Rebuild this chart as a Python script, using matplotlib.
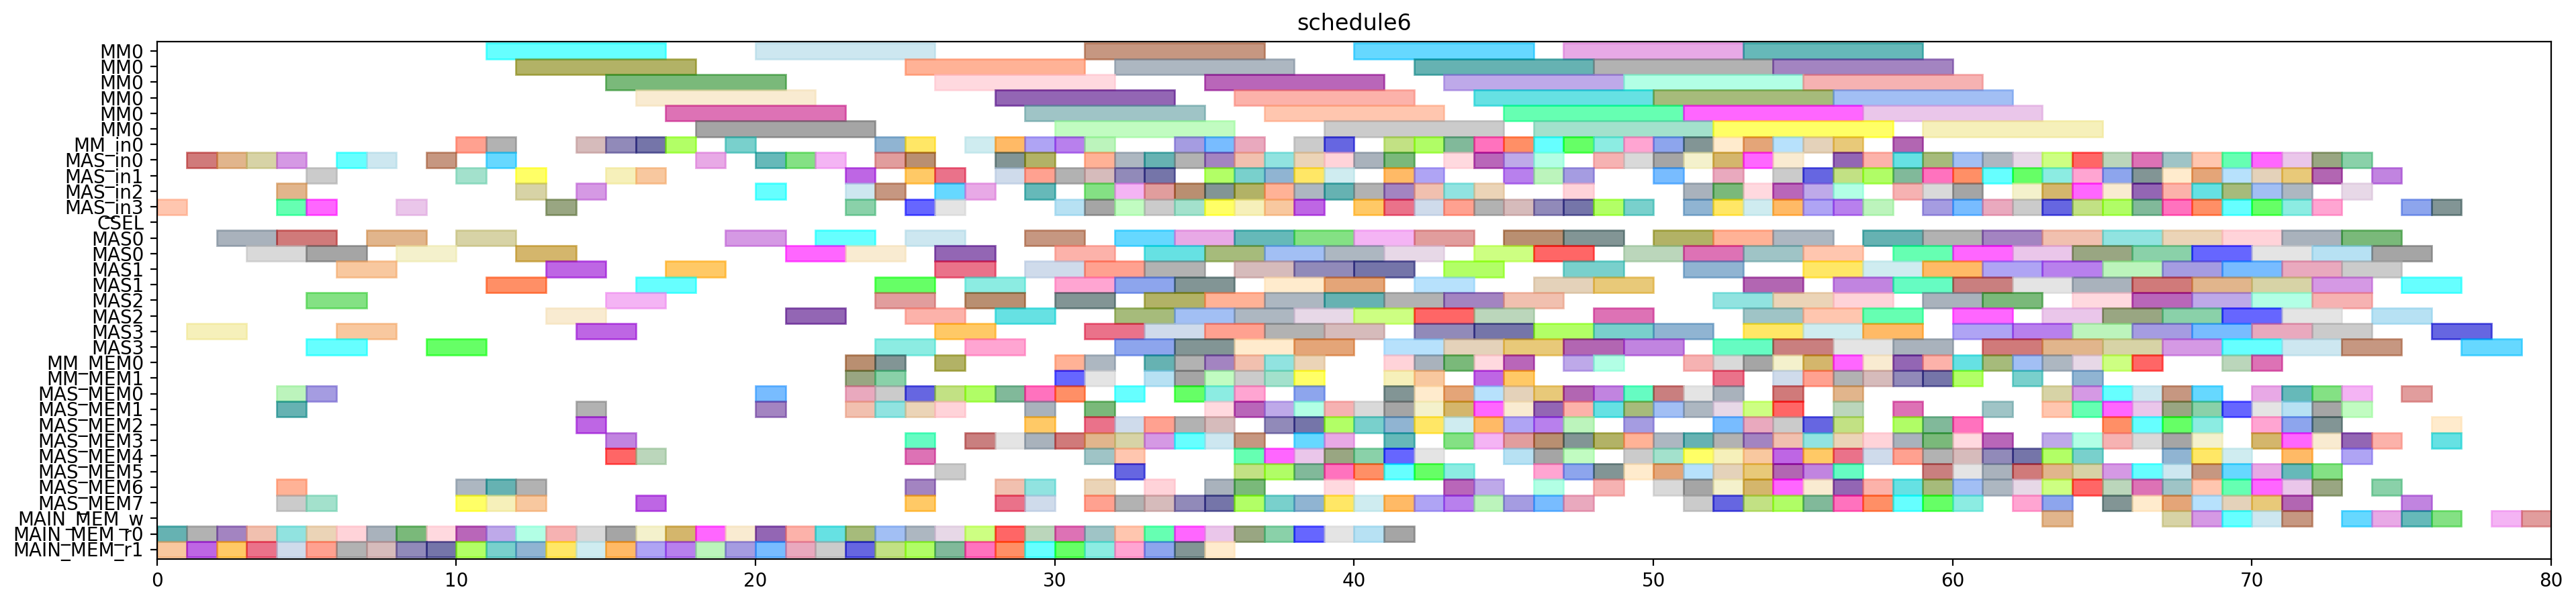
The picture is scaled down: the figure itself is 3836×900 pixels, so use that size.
import matplotlib
matplotlib.use('Agg')
import matplotlib.pyplot as plt
import matplotlib.colors as mcolors

title = 'schedule6'

row_labels = ['MM0', 'MM0', 'MM0', 'MM0', 'MM0', 'MM0', 'MM_in0',
              'MAS_in0', 'MAS_in1', 'MAS_in2', 'MAS_in3', 'CSEL',
              'MAS0', 'MAS0', 'MAS1', 'MAS1', 'MAS2', 'MAS2', 'MAS3', 'MAS3',
              'MM_MEM0', 'MM_MEM1',
              'MAS_MEM0', 'MAS_MEM1', 'MAS_MEM2', 'MAS_MEM3',
              'MAS_MEM4', 'MAS_MEM5', 'MAS_MEM6', 'MAS_MEM7',
              'MAIN_MEM_w', 'MAIN_MEM_r0', 'MAIN_MEM_r1']

# duration of one task on each row
row_durations = [6, 6, 6, 6, 6, 6, 1,
                 1, 1, 1, 1, 1,
                 2, 2, 2, 2, 2, 2, 2, 2,
                 1, 1,
                 1, 1, 1, 1, 1, 1, 1, 1,
                 1, 1, 1]

# start times of the tasks, one list per row
mm0_a = [11, 20, 31, 40, 47, 53]
mm0_b = [12, 25, 32, 42, 48, 54]
mm0_c = [15, 26, 35, 43, 49, 55]
mm0_d = [16, 28, 36, 44, 50, 56]
mm0_e = [17, 29, 37, 45, 51, 57]
mm0_f = [18, 30, 39, 46, 52, 59]
mm_in0 = [10, 11, 14, 15, 16, 17, 19, 24, 25, 27, 28, 29, 30, 31, 34, 35, 36, 38,
          39, 41, 42, 43, 44, 45, 46, 47, 48, 49, 50, 51, 52, 53, 54, 55, 56, 58]
mas_in0 = [1, 2, 3, 4, 6, 7, 9, 11, 18, 20, 21, 22, 24, 25, 28, 29, 31, 32, 33, 34,
           35, 36, 37, 38, 39, 40, 41, 43, 44, 45, 46, 48, 49, 50, 51, 52, 53, 54,
           56, 57, 58, 59, 60, 61, 62, 63, 64, 65, 66, 67, 68, 69, 70, 71, 72, 73]
mas_in1 = [5, 10, 12, 15, 16, 23, 25, 26, 28, 29, 30, 31, 32, 33, 35, 36, 37, 38,
           39, 41, 42, 45, 46, 47, 50, 52, 54, 55, 56, 57, 58, 59, 60, 61, 62, 63,
           64, 65, 66, 67, 68, 69, 70, 71, 72, 74]
mas_in2 = [4, 12, 14, 20, 23, 24, 26, 27, 29, 31, 32, 33, 34, 35, 36, 37, 38, 39,
           40, 41, 42, 43, 44, 47, 51, 52, 53, 54, 55, 56, 58, 59, 60, 62, 63, 64,
           65, 66, 67, 68, 69, 70, 71, 73]
mas_in3 = [0, 4, 5, 8, 13, 23, 25, 26, 30, 31, 32, 33, 34, 35, 36, 37, 38, 40, 41,
           42, 43, 44, 45, 46, 47, 48, 49, 51, 52, 53, 54, 55, 56, 57, 59, 60, 61,
           62, 63, 64, 65, 66, 67, 68, 69, 70, 71, 72, 75, 76]
csel = []
mas0_a = [2, 4, 7, 10, 19, 22, 25, 29, 32, 34, 36, 38, 40, 42, 45, 47, 50, 52, 54,
          57, 59, 61, 63, 65, 67, 69, 71, 73]
mas0_b = [3, 5, 8, 12, 21, 23, 26, 30, 33, 35, 37, 39, 41, 44, 46, 49, 51, 53, 55,
          58, 60, 62, 64, 66, 68, 70, 72, 74]
mas1_a = [6, 13, 17, 26, 29, 31, 33, 36, 38, 40, 43, 47, 51, 55, 57, 59, 61, 63,
          65, 67, 69, 71, 73]
mas1_b = [11, 16, 24, 27, 30, 32, 34, 37, 39, 42, 46, 48, 53, 56, 58, 60, 62, 64,
          66, 68, 70, 72, 75]
mas2_a = [5, 15, 24, 27, 30, 33, 35, 37, 39, 41, 43, 45, 52, 54, 56, 59, 61, 64,
          66, 68, 70, 72]
mas2_b = [13, 21, 25, 28, 32, 34, 36, 38, 40, 42, 44, 48, 53, 55, 57, 60, 63, 65,
          67, 69, 71, 74]
mas3_a = [1, 6, 14, 26, 31, 33, 35, 37, 39, 42, 44, 46, 48, 50, 53, 55, 57, 60, 62,
          64, 66, 68, 70, 72, 76]
mas3_b = [5, 9, 24, 27, 32, 34, 36, 38, 41, 43, 45, 47, 49, 52, 54, 56, 58, 61, 63,
          65, 67, 69, 71, 73, 77]
mm_mem0 = [23, 24, 26, 30, 31, 33, 34, 35, 36, 37, 38, 41, 42, 43, 44, 45, 47, 48,
           51, 52, 53, 54, 55, 56, 57, 58, 59, 60, 61, 62, 63, 64, 65, 66, 69, 70]
mm_mem1 = [23, 24, 30, 31, 33, 34, 35, 36, 37, 38, 41, 42, 44, 45, 52, 54, 55, 56,
           57, 58, 59, 60, 62, 64]
mas_mem0 = [4, 5, 20, 23, 24, 25, 26, 27, 28, 29, 30, 32, 34, 35, 36, 38, 41, 42,
            43, 44, 45, 46, 47, 48, 49, 50, 51, 52, 54, 56, 63, 64, 65, 66, 67, 68,
            70, 71, 72, 73, 75]
mas_mem1 = [4, 14, 20, 23, 24, 25, 26, 29, 31, 35, 36, 37, 38, 39, 40, 41, 42, 43,
            44, 45, 46, 47, 48, 49, 50, 51, 52, 53, 54, 56, 58, 61, 63, 64, 65, 66,
            67, 68, 69, 70, 71, 72, 73]
mas_mem2 = [14, 29, 31, 32, 33, 34, 35, 37, 38, 39, 40, 41, 42, 43, 44, 45, 46, 47,
            49, 52, 53, 54, 55, 56, 58, 59, 60, 65, 66, 67, 68, 70, 71, 72, 76]
mas_mem3 = [15, 25, 27, 28, 29, 30, 31, 32, 33, 34, 35, 36, 38, 39, 41, 43, 44, 45,
            46, 47, 48, 49, 50, 51, 52, 53, 54, 55, 56, 57, 58, 59, 60, 61, 63, 64,
            65, 66, 67, 68, 70, 71, 72, 73, 74, 76]
mas_mem4 = [15, 16, 25, 31, 32, 36, 37, 38, 39, 40, 41, 42, 45, 46, 47, 49, 50, 51,
            52, 53, 54, 55, 56, 57, 58, 59, 60, 61, 62, 63, 64, 67, 68, 69, 71, 73]
mas_mem5 = [26, 32, 36, 37, 38, 39, 40, 41, 42, 43, 46, 47, 48, 49, 50, 51, 52, 53,
            54, 55, 56, 59, 60, 61, 62, 63, 64, 65, 66, 67, 68, 69, 70, 71, 72]
mas_mem6 = [4, 10, 11, 12, 25, 28, 29, 31, 33, 35, 36, 39, 43, 44, 46, 48, 50, 51,
            52, 53, 54, 55, 56, 57, 58, 59, 60, 61, 62, 63, 64, 65, 66, 67, 68, 69,
            70, 71, 72, 74]
mas_mem7 = [4, 5, 10, 11, 12, 16, 25, 28, 29, 31, 32, 33, 34, 35, 36, 37, 38, 39,
            40, 41, 42, 43, 44, 45, 46, 47, 51, 52, 53, 54, 55, 56, 57, 58, 59, 60,
            62, 63, 65, 66, 67, 68, 69, 70, 71, 75]
main_mem_w = [63, 67, 68, 69, 70, 71, 73, 74, 75, 76, 78, 79]
main_mem_r0 = [0, 1, 2, 3, 4, 5, 6, 7, 8, 9, 10, 11, 12, 13, 14, 15, 16, 17, 18, 19,
               20, 21, 22, 23, 24, 25, 26, 27, 28, 29, 30, 31, 32, 33, 34, 35, 36,
               37, 38, 39, 40, 41]
main_mem_r1 = [0, 1, 2, 3, 4, 5, 6, 7, 8, 9, 10, 11, 12, 13, 14, 15, 16, 17, 18, 19,
               20, 21, 22, 23, 24, 25, 26, 27, 28, 29, 30, 31, 32, 33, 34, 35]

row_starts = [mm0_a, mm0_b, mm0_c, mm0_d, mm0_e, mm0_f, mm_in0,
              mas_in0, mas_in1, mas_in2, mas_in3, csel,
              mas0_a, mas0_b, mas1_a, mas1_b, mas2_a, mas2_b, mas3_a, mas3_b,
              mm_mem0, mm_mem1,
              mas_mem0, mas_mem1, mas_mem2, mas_mem3,
              mas_mem4, mas_mem5, mas_mem6, mas_mem7,
              main_mem_w, main_mem_r0, main_mem_r1]

# palette of named colours, skipping the very dark and the almost white ones
palette = [c for c in mcolors.CSS4_COLORS.values()
           if 0.6 < sum(mcolors.to_rgb(c)) < 2.55]

fig, ax = plt.subplots(figsize=(19.18, 4.5), dpi=200)
fig.subplots_adjust(left=0.0609, right=0.9904, top=0.931, bottom=0.0748)

k = 0
for i, (starts, dur) in enumerate(zip(row_starts, row_durations)):
    for s in starts:
        c = palette[(k * 47 + i * 13) % len(palette)]
        ax.barh(i, dur, left=s, height=1.0, color=c, edgecolor=c,
                alpha=0.6, linewidth=1.0)
        k += 1

ax.set_yticks(range(len(row_labels)))
ax.set_yticklabels(row_labels)
ax.set_ylim(len(row_labels) - 0.4, -0.6)
ax.set_xlim(0, 80)
ax.set_title(title)

fig.savefig('out.png', dpi=200)
